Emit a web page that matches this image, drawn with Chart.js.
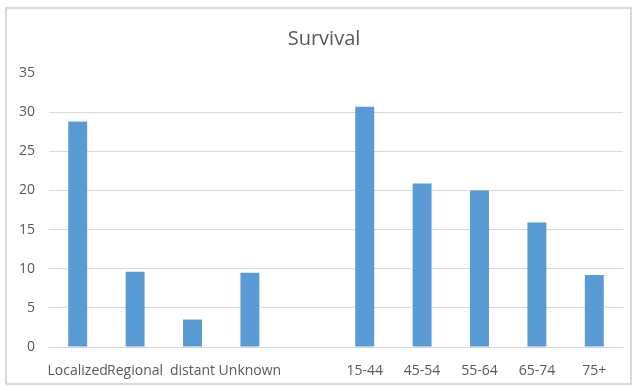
<!DOCTYPE html>
<html>
<head>
<meta charset="utf-8">
<script src="https://cdn.jsdelivr.net/npm/chart.js@4"></script>
<style>
    html, body { margin: 0; padding: 0; background: #fff; }
    #wrap { position: relative; width: 634px; height: 387px; }
    #frame {
        position: absolute; left: 5px; top: 7px; width: 627px; height: 378px;
        box-sizing: border-box; border: 2px solid #d9d9d9; pointer-events: none;
    }
    canvas { position: absolute; left: 0; top: 0; }
</style>
</head>
<body>
<div id="wrap">
    <canvas id="survivalChart" width="634" height="387"></canvas>
    <div id="frame"></div>
</div>
<script>
const categories = ['Localized', 'Regional', 'distant', 'Unknown', '', '15-44', '45-54', '55-64', '65-74', '75+'];
const survival = [28.8, 9.6, 3.5, 9.5, null, 30.7, 20.9, 20.0, 15.9, 9.2];
const yTicks = [0, 5, 10, 15, 20, 25, 30, 35];

const textColor = '#595959';
const gridColor = '#d9d9d9';

new Chart(document.getElementById('survivalChart'), {
    type: 'bar',
    data: {
        labels: categories,
        datasets: [{
            label: 'Survival',
            data: survival,
            backgroundColor: '#5b9bd5',
            borderWidth: 0,
            barPercentage: 0.33,
            categoryPercentage: 1,
        }],
    },
    options: {
        responsive: false,
        animation: false,
        layout: {
            padding: { left: 25, right: 11, top: 5, bottom: 0 },
        },
        plugins: {
            legend: { display: false },
            tooltip: { enabled: false },
            title: {
                display: true,
                text: 'Survival',
                color: textColor,
                font: { family: 'Open Sans', size: 20, weight: 'normal' },
                padding: { top: 22, bottom: 22 },
            },
        },
        scales: {
            x: {
                grid: { display: false, drawTicks: false },
                border: { display: false },
                ticks: {
                    color: textColor,
                    font: { family: 'Open Sans', size: 14 },
                    autoSkip: false,
                    maxRotation: 0,
                    minRotation: 0,
                    padding: 16,
                },
                afterFit: (scale) => { scale.height = 40; },
            },
            y: {
                min: 0,
                max: 35,
                afterBuildTicks: (scale) => {
                    scale.ticks = yTicks.map((value) => ({ value }));
                },
                grid: {
                    drawTicks: false,
                    color: (ctx) => (ctx.tick && ctx.tick.value === 35 ? 'rgba(0,0,0,0)' : gridColor),
                    lineWidth: 1,
                },
                border: { display: false },
                // mirrored + far-aligned so the labels sit right-aligned left of the plot without clipping
                ticks: {
                    color: textColor,
                    font: { family: 'Open Sans', size: 14 },
                    mirror: true,
                    crossAlign: 'far',
                    padding: -30,
                },
                afterFit: (scale) => { scale.width = 24; },
            },
        },
    },
});
</script>
</body>
</html>
